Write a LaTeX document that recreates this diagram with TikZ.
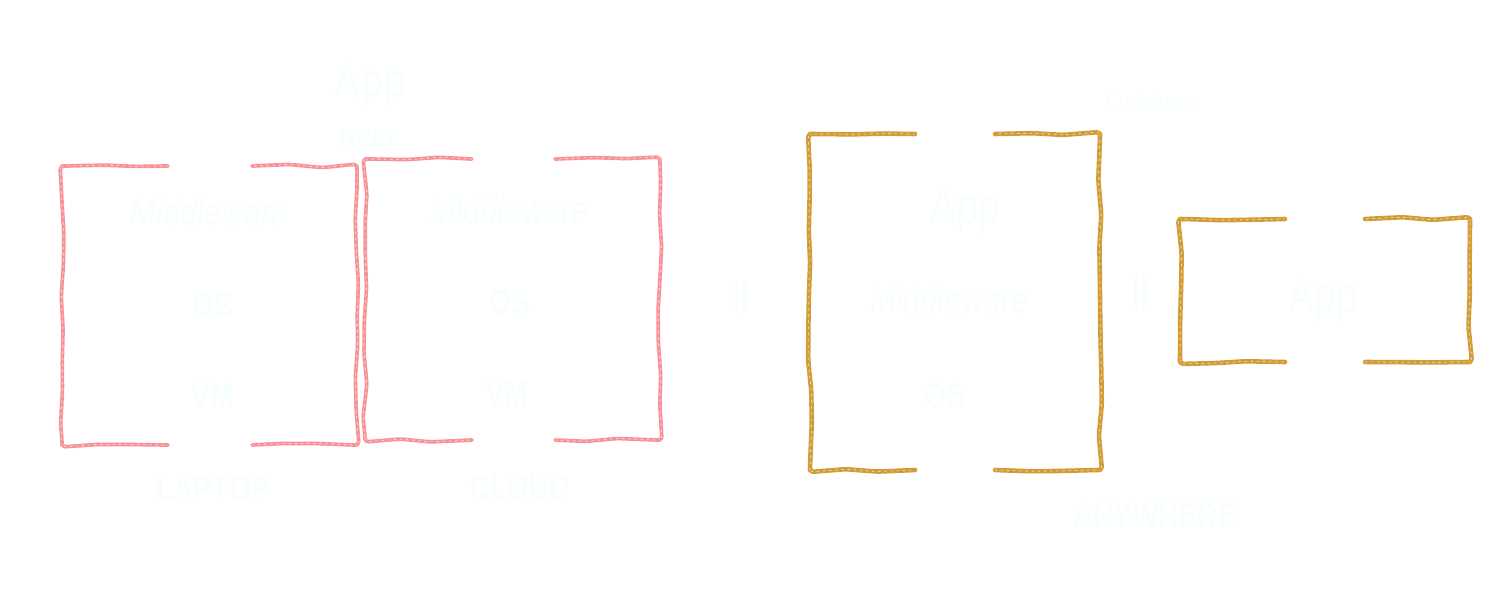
\documentclass[tikz,border=0pt]{standalone}
\usepackage{fontspec}
\setmainfont{Liberation Sans}
\newfontfamily\chalkfont[FakeStretch=0.8]{Liberation Sans}
\usetikzlibrary{decorations.pathmorphing}
\definecolor{sketchred}{RGB}{246,120,126}
\definecolor{sketchgold}{RGB}{210,156,56}
\definecolor{chalk}{RGB}{246,255,253}

\begin{document}
\begin{tikzpicture}[x=0.02cm, y=-0.02cm,
	rough/.style={line width=2.1pt, line cap=round, line join=round, rounded corners=2pt,
		decorate, decoration={random steps, segment length=18pt, amplitude=1.1pt},
		postaction={draw=white, draw opacity=0.6, line width=0.5pt, dash pattern=on 1pt off 2.5pt}},
	redbox/.style={rough, draw=sketchred, draw opacity=0.8},
	goldbox/.style={rough, draw=sketchgold, line width=2.6pt},
	word/.style={text=chalk, font=\chalkfont\bfseries\fontsize{20}{24}\selectfont, inner sep=0pt},
	bigword/.style={word, font=\chalkfont\fontsize{28}{32}\selectfont},
	handword/.style={word, font=\chalkfont\itshape\fontsize{22}{26}\selectfont},
	tinyword/.style={word, font=\chalkfont\fontsize{13}{16}\selectfont}]

	\useasboundingbox[fill=white] (0,0) rectangle (1500,600);
	\pgfmathsetseed{7}

	%boxes
	\foreach \xa/\ya/\xb/\yb/\ga/\gb/\kind in {
		62/166/357/445/168/252/redbox,
		365/159/660/440/472/555/redbox,
		810/134/1100/470/915/995/goldbox,
		1180/219/1470/362/1285/1365/goldbox}
	{
		\draw[\kind] (\ga,\ya) -- (\xa,\ya) -- (\xa,\yb) -- (\ga,\yb);
		\draw[\kind] (\gb,\yb) -- (\xb,\yb) -- (\xb,\ya) -- (\gb,\ya);
	}

	%laptop and cloud
	\node[bigword] (app) at (370,86) {App};
	\node[word] (over) at (368,140) {over};
	\node[handword] (laptop mw) at (210,212) {Middleware};
	\node[word] (laptop os) at (213,305) {OS};
	\node[word] (laptop vm) at (213,395) {VM};
	\node[word] (laptop) at (213,488) {LAPTOP};
	\node[handword] (cloud mw) at (510,210) {Middleware};
	\node[word] (cloud os) at (510,302) {OS};
	\node[word] (cloud vm) at (507,393) {VM};
	\node[word] (cloud) at (520,487) {CLOUD};

	%containers
	\node[word] (eq a) at (741,297) {||};
	\node[tinyword] (containers) at (1150,100) {Containers};
	\node[bigword] (image app) at (965,212) {App};
	\node[handword] (image mw) at (950,300) {Middleware};
	\node[word] (image os) at (945,395) {OS};
	\node[word] (anywhere) at (1155,515) {ANYWHERE};
	\node[word] (eq b) at (1140,293) {||};
	\node[bigword] (container app) at (1323,300) {App};
\end{tikzpicture}
\end{document}
